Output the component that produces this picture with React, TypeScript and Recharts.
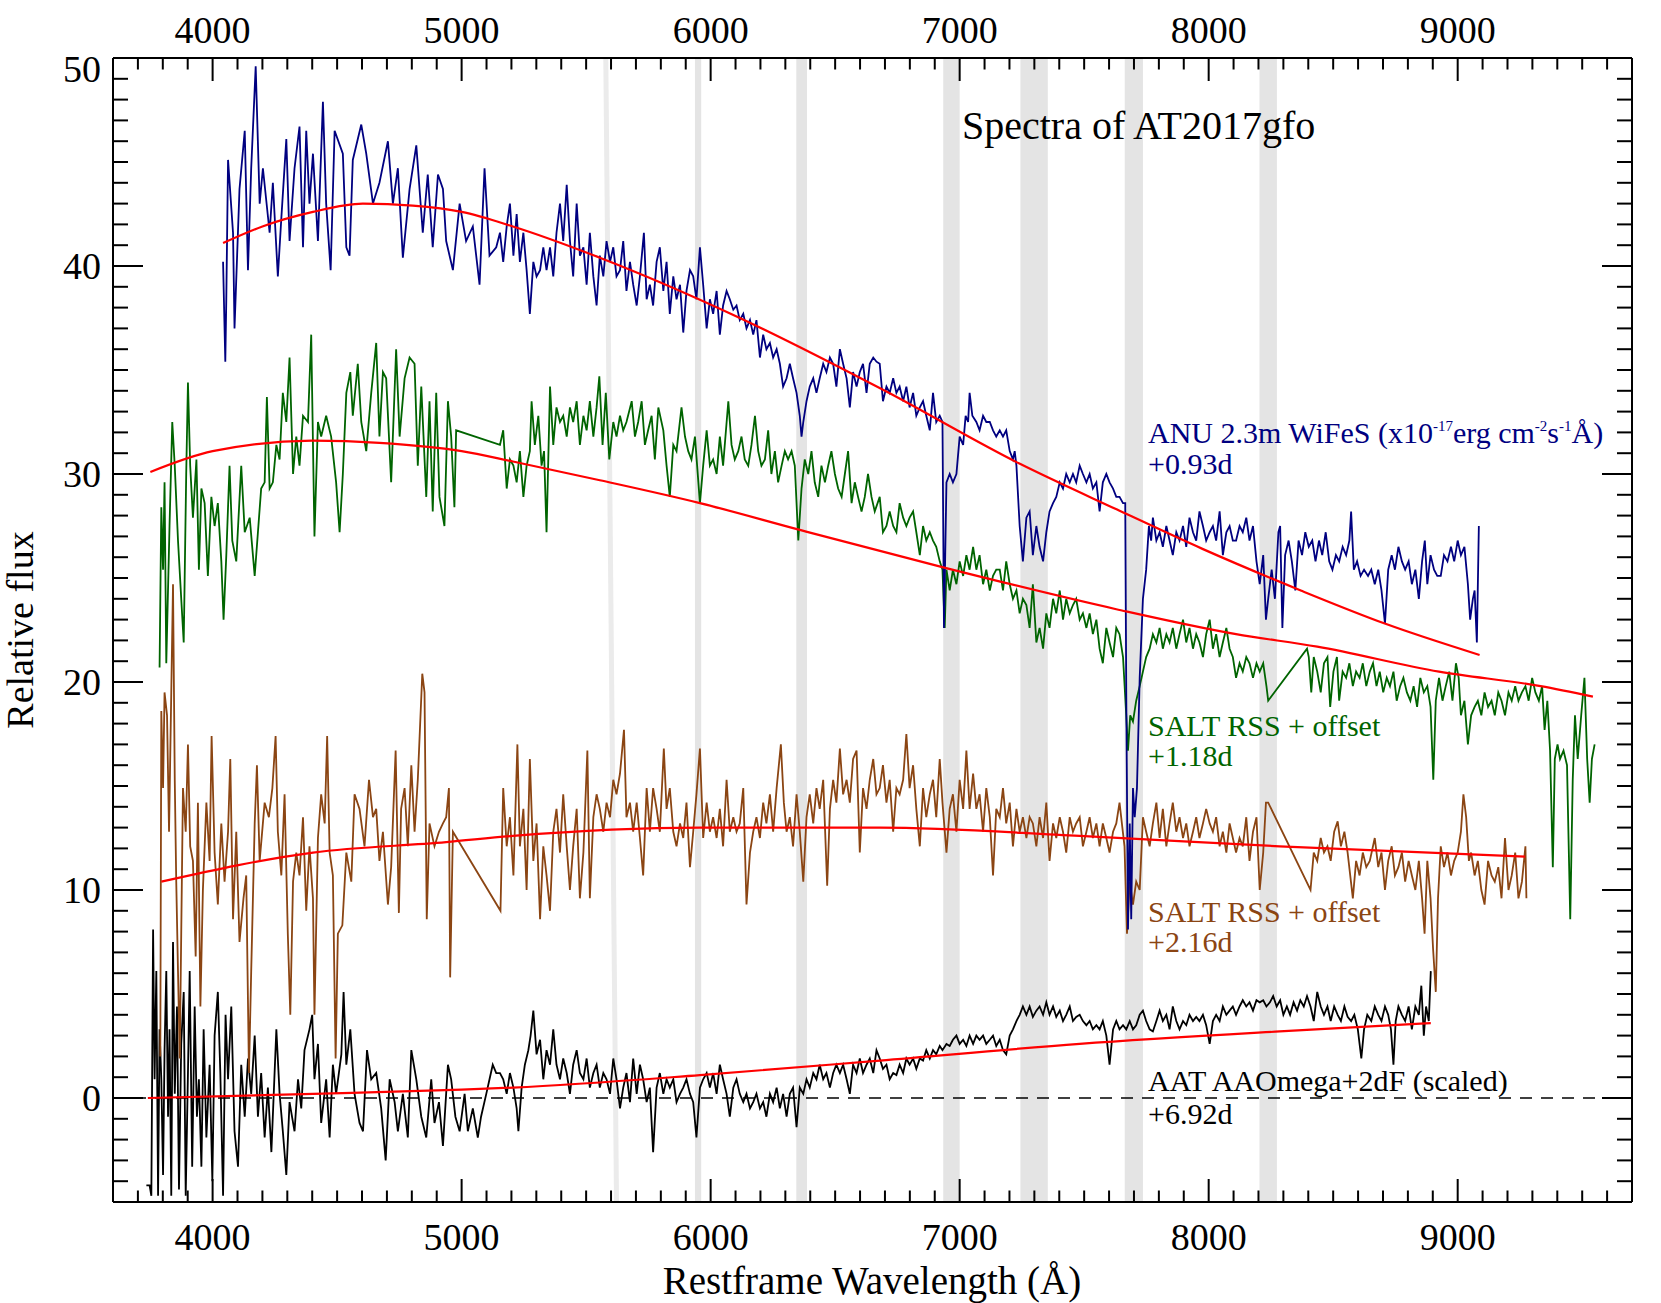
import React from 'react';
import { ComposedChart, Line, XAxis, YAxis, ReferenceArea, ReferenceLine } from 'recharts';

type P = [number, number];

// ---- ANU 2.3m WiFeS +0.93d (wavelength, flux)
const anuSpectrum: P[] = [
  [4042,40.2],[4051,35.4],[4055,38.4],[4062,45.1],[4082,41.6],[4088,37.0],[4108,43.7],[4129,46.5],[4142,39.8],[4155,44.7],[4173,49.6],[4189,43.0],[4202,44.7],[4229,41.6],[4242,44.0],[4262,39.5],[4276,42.3],[4296,46.1],[4309,41.2],[4329,44.7],[4349,46.7],[4363,40.9],[4376,46.5],[4389,43.0],[4403,45.4],[4423,41.2],[4443,47.9],[4456,43.0],[4474,39.8],[4490,46.5],[4523,45.4],[4537,40.9],[4550,40.5],[4563,45.1],[4597,46.8],[4617,45.4],[4644,43.0],[4670,44.0],[4704,46.0],[4724,43.0],[4744,44.7],[4764,40.4],[4791,43.7],[4818,45.8],[4844,41.6],[4864,44.4],[4884,40.9],[4905,44.4],[4925,43.7],[4938,41.2],[4965,39.8],[4992,43.0],[5018,41.2],[5045,41.9],[5072,39.1],[5092,44.7],[5112,40.5],[5139,40.9],
  [5154,41.6],[5167,40.2],[5181,41.9],[5194,43.0],[5208,40.5],[5221,42.5],[5234,40.2],[5248,41.6],[5261,39.8],[5274,37.7],[5288,40.2],[5301,39.5],[5315,39.8],[5328,40.9],[5341,39.8],[5355,40.9],[5368,39.5],[5381,41.6],[5395,43.0],[5408,41.2],[5422,43.9],[5435,41.2],[5448,39.5],[5462,43.0],[5475,40.5],[5489,40.9],[5502,39.1],[5515,41.6],[5529,39.5],[5542,38.1],[5555,40.5],[5569,39.5],[5582,41.2],[5596,40.2],[5609,40.9],[5622,39.5],[5636,39.8],[5649,41.2],[5662,38.8],[5676,40.2],[5689,39.1],[5703,38.1],[5716,39.5],[5732,41.6],[5743,38.4],[5756,39.1],[5769,38.1],[5783,40.2],[5796,40.9],[5810,38.8],[5823,40.2],[5836,37.7],[5850,39.5],[5863,38.4],[5877,39.1],[5890,36.8],[5903,38.8],[5917,39.8],[5930,39.5],[5943,38.4],[5957,40.9],[5970,39.1],[5984,37.0],[5997,38.4],[6010,37.7],[6024,38.8],[6037,36.7],[6050,38.1],[6064,38.8],[6077,38.4],[6091,37.9],[6104,38.1],[6117,37.4],[6131,37.7],[6144,37.0],[6158,37.4],[6171,36.7],[6184,37.4],[6198,35.6],[6211,36.7],[6224,36.0],[6238,36.3],[6251,35.6],[6265,36.0],[6278,35.3],[6291,34.2],[6305,34.6],[6318,35.3],[6331,34.6],[6345,33.9],[6358,32.8],[6365,31.8],[6372,32.5],[6385,33.5],[6398,34.2],[6412,34.6],[6425,33.9],[6438,34.6],[6452,35.3],[6465,34.9],[6479,35.6],[6492,35.3],[6505,34.2],[6519,36.0],[6532,35.3],[6546,34.6],[6559,33.2],[6572,34.9],[6586,34.2],[6599,34.9],[6612,35.3],[6626,33.9],[6639,35.3],[6653,35.6],[6666,35.4],
  [6679,35.3],[6692,33.5],[6706,34.2],[6719,33.9],[6733,34.6],[6746,33.9],[6759,34.2],[6773,33.5],[6786,34.2],[6799,33.2],[6813,33.9],[6826,32.8],[6840,33.2],[6853,33.5],[6866,32.8],[6880,32.1],[6893,33.9],[6906,32.5],[6920,32.8],[6931,32.5],[6937,22.6],[6947,29.6],[6960,30.0],[6973,29.6],[6987,30.0],[7000,31.8],[7014,31.4],[7024,32.8],[7034,32.5],[7040,33.9],[7051,32.8],[7067,32.5],[7080,32.1],[7094,32.8],[7107,32.5],[7121,32.5],[7134,32.1],[7147,31.8],[7161,32.1],[7174,31.8],[7187,32.1],[7201,31.1],[7214,30.7],[7221,31.1],[7228,30.4],[7241,27.5],[7254,25.8],[7268,27.9],[7281,28.2],[7294,26.1],[7308,27.5],[7321,26.5],[7335,25.8],[7348,27.2],[7361,28.2],[7375,28.6],[7388,28.9],[7402,29.6],[7415,29.3],[7428,30.0],[7442,29.6],[7455,30.0],[7468,29.6],[7482,30.4],[7495,30.0],[7509,29.6],[7522,30.0],[7535,29.3],[7549,29.6],[7562,28.2],[7575,29.6],[7589,30.0],[7602,29.6],[7616,29.3],[7629,28.9],[7642,28.9],[7656,28.6],[7665,28.6],[7669,19.5],[7676,8.1],[7683,13.2],[7689,8.6],[7696,14.9],[7703,13.5],[7712,14.9],[7723,20.2],[7736,24.0],[7749,25.4],[7760,27.5],[7769,26.8],[7776,27.9],[7790,26.8],[7803,27.2],[7816,26.5],[7830,27.5],[7843,26.8],[7856,26.1],[7870,27.2],[7883,26.8],[7897,27.5],[7910,26.5],[7923,27.9],[7937,27.2],[7950,26.8],[7963,28.2],[7977,27.5],[7990,26.8],[8004,27.2],[8017,27.5],[8030,26.8],[8044,28.2],[8057,26.1],[8071,27.2],[8084,27.5],[8097,26.8],
  [8110,26.8],[8124,27.5],[8137,27.2],[8151,27.9],[8164,26.8],[8178,27.5],[8192,25.8],[8205,24.7],[8219,26.1],[8230,23.0],[8239,24.0],[8253,25.4],[8266,24.0],[8280,27.2],[8287,27.5],[8296,22.6],[8307,26.1],[8321,26.8],[8334,25.8],[8348,24.4],[8361,26.8],[8375,26.1],[8388,27.2],[8402,26.5],[8416,26.8],[8429,25.8],[8443,26.8],[8456,26.1],[8470,27.2],[8484,25.8],[8497,25.4],[8511,26.1],[8524,25.8],[8538,26.5],[8552,26.1],[8565,26.8],[8572,28.2],[8583,25.4],[8596,25.8],[8610,25.1],[8624,25.4],[8640,25.1],[8653,25.4],[8667,24.7],[8681,25.4],[8694,24.4],[8708,22.8],[8721,25.4],[8735,26.1],[8748,25.4],[8762,26.5],[8776,25.8],[8789,25.4],[8803,25.8],[8816,24.7],[8830,25.4],[8844,24.0],[8857,25.8],[8868,26.8],[8878,24.7],[8891,26.1],[8905,25.4],[8918,25.1],[8932,25.1],[8945,26.1],[8959,25.8],[8973,26.5],[8986,25.8],[9000,26.8],[9013,26.1],[9027,26.5],[9041,24.7],[9050,23.0],[9061,24.0],[9068,24.4],[9077,21.9],[9085,27.5],
];
const anuFit: P[] = [
  [4042,41.1],[4200,41.9],[4403,42.6],[4603,43.0],[4804,42.9],[5000,42.6],[5206,41.9],[5555,40.4],[6100,37.6],[6700,34.0],[7240,30.5],[7630,28.3],[7975,26.4],[8370,24.4],[8710,22.8],[9088,21.3],
];

// ---- SALT RSS +1.18d (offset)
const saltEarlySpectrum: P[] = [
  [3787,20.7],[3794,28.4],[3801,25.4],[3807,29.6],[3814,20.9],[3827,27.5],[3838,32.5],[3848,30.4],[3861,26.8],[3874,24.0],[3884,21.9],[3894,30.0],[3901,34.4],[3910,30.4],[3921,27.9],[3935,30.7],[3945,25.4],[3955,29.3],[3968,28.6],[3981,25.1],[3995,28.9],[4008,27.5],[4021,28.6],[4035,25.8],[4044,23.0],[4055,26.1],[4068,30.4],[4079,26.8],[4095,25.8],[4115,30.4],[4129,27.2],[4149,27.9],[4169,25.1],[4182,27.2],[4195,29.3],[4209,29.6],[4218,33.7],[4229,29.3],[4242,29.6],[4256,31.4],[4269,30.7],[4282,33.9],[4296,32.5],[4309,35.6],[4323,30.0],[4336,31.8],[4349,30.4],[4363,32.8],[4383,32.5],[4396,36.7],[4409,27.0],[4423,32.5],[4436,31.8],[4456,32.8],[4476,31.8],[4496,29.6],[4510,27.2],[4523,30.0],[4537,33.9],[4553,34.9],[4563,32.8],[4583,35.3],[4597,32.5],[4617,31.1],[4637,33.9],[4657,36.3],[4670,31.8],[4684,34.9],[4697,34.6],[4717,29.6],[4737,36.0],[4751,31.8],[4771,34.6],[4791,35.6],[4811,35.3],[4824,30.4],[4838,34.2],[4858,28.9],[4871,33.5],[4884,28.2],[4898,33.9],[4911,28.9],[4931,27.5],[4945,33.5],[4958,31.8],[4971,28.4],[4978,32.1],
  [5154,31.4],[5167,32.1],[5181,29.3],[5194,30.7],[5208,30.4],[5221,29.6],[5234,31.1],[5248,28.9],[5261,30.4],[5274,31.1],[5281,33.5],[5294,31.4],[5308,32.8],[5321,30.4],[5331,31.1],[5341,27.2],[5355,34.2],[5368,31.4],[5381,33.2],[5395,32.5],[5408,32.8],[5422,31.8],[5435,33.2],[5448,32.5],[5462,33.5],[5475,31.4],[5489,32.8],[5502,32.1],[5515,33.5],[5529,31.8],[5542,33.2],[5553,34.7],[5566,31.4],[5579,33.9],[5593,30.7],[5609,32.5],[5622,31.8],[5636,32.8],[5649,32.1],[5662,32.5],[5683,33.5],[5696,31.8],[5709,32.5],[5723,33.5],[5736,31.4],[5749,32.1],[5763,32.8],[5776,30.7],[5790,33.2],[5810,32.1],[5823,30.4],[5836,28.9],[5850,31.4],[5863,31.1],[5883,33.2],[5897,31.8],[5910,31.1],[5923,30.7],[5937,31.8],[5957,28.6],[5970,30.4],[5984,32.1],[5997,30.4],[6010,30.7],[6024,30.0],[6037,31.8],[6050,30.4],[6071,33.5],[6084,31.4],[6097,30.7],[6111,31.1],[6124,31.8],[6137,30.7],[6151,30.4],[6164,31.4],[6178,32.8],[6191,31.1],[6204,30.4],[6218,30.7],[6231,32.1],[6244,30.0],[6258,31.1],[6271,29.6],[6285,30.4],[6298,31.1],[6311,30.7],[6325,31.1],[6338,30.4],[6352,26.8],[6365,29.3],[6378,30.7],[6392,30.0],[6405,31.1],[6418,29.6],[6432,28.9],[6445,30.4],[6459,29.6],[6472,30.4],[6485,31.1],[6499,30.0],[6512,29.3],[6526,28.9],[6539,30.0],[6552,31.1],[6566,28.6],[6579,29.6],[6592,28.9],[6606,28.2],[6619,28.9],[6632,30.0],[6646,28.9],[6659,28.2],
  [6679,28.9],[6692,27.2],[6706,27.5],[6719,28.2],[6733,27.5],[6746,27.2],[6759,28.6],[6773,27.9],[6786,27.5],[6799,27.9],[6813,28.2],[6826,27.2],[6840,26.1],[6853,27.5],[6866,26.8],[6880,27.2],[6893,26.8],[6906,26.5],[6920,25.8],[6931,25.4],[6940,22.6],[6947,25.4],[6960,24.4],[6973,25.4],[6987,24.7],[7000,25.8],[7014,25.1],[7027,26.1],[7040,25.4],[7054,26.5],[7067,25.4],[7080,26.1],[7094,24.7],[7107,25.4],[7121,24.4],[7134,25.1],[7147,25.4],[7161,25.4],[7174,24.4],[7187,25.8],[7201,24.7],[7214,24.0],[7228,24.4],[7241,23.3],[7254,24.0],[7268,23.7],[7281,22.6],[7294,24.7],[7308,21.9],[7321,22.6],[7335,21.6],[7348,23.3],[7361,22.6],[7375,24.0],[7388,23.3],[7402,24.4],[7415,23.0],[7428,24.0],[7442,23.3],[7455,23.7],[7468,24.0],[7482,23.0],[7495,23.3],[7509,22.6],[7522,23.3],[7535,22.3],[7549,23.0],[7562,21.6],[7575,20.9],[7589,22.6],[7602,21.9],[7616,21.2],[7629,22.6],[7642,22.3],[7656,21.2],[7669,18.4],[7676,16.7],[7685,18.4],[7696,18.1],[7709,19.1],[7723,19.8],[7736,20.5],[7749,21.2],[7763,21.6],[7776,22.3],[7790,21.9],[7803,22.6],[7816,21.6],[7830,22.3],[7843,21.9],[7856,22.6],[7870,21.6],[7883,22.3],[7897,23.0],[7910,21.9],[7923,22.6],[7937,21.6],[7950,22.3],[7963,21.9],[7977,21.2],[7990,22.3],[8004,23.0],[8017,21.6],[8030,22.3],[8044,21.2],[8057,21.9],[8071,22.6],[8084,21.6],[8097,21.2],
  [8110,20.2],[8124,20.9],[8137,20.5],[8151,21.2],[8164,20.9],[8178,20.2],[8192,20.9],[8205,20.5],[8219,20.9],[8232,19.8],[8239,19.1],[8395,21.6],[8402,21.2],[8412,19.5],[8422,21.2],[8436,20.5],[8450,19.5],[8463,20.9],[8477,21.2],[8488,18.8],[8501,20.5],[8515,21.2],[8524,19.1],[8538,20.5],[8552,20.2],[8565,20.9],[8579,19.8],[8592,20.5],[8606,20.2],[8619,20.9],[8633,19.8],[8647,20.5],[8660,20.9],[8674,19.8],[8687,20.5],[8701,19.5],[8715,20.2],[8728,19.8],[8742,20.5],[8755,19.1],[8769,19.8],[8782,20.2],[8796,19.5],[8810,19.1],[8823,19.8],[8837,18.8],[8850,20.2],[8864,19.5],[8878,19.8],[8891,18.8],[8902,15.3],[8912,19.1],[8925,20.2],[8939,19.1],[8952,19.8],[8966,20.5],[8979,19.1],[8993,20.9],[9004,20.2],[9013,18.4],[9027,19.1],[9041,17.0],[9054,18.4],[9068,18.8],[9081,19.1],[9095,18.4],[9108,19.5],[9122,18.8],[9136,19.1],[9149,18.4],[9163,19.5],[9176,19.1],[9190,18.4],[9204,19.5],[9217,19.1],[9231,19.8],[9244,19.1],[9258,19.5],[9272,19.8],[9285,19.1],[9299,20.2],[9312,19.5],[9326,19.1],[9339,19.8],[9349,17.7],[9360,19.1],[9371,16.7],[9382,11.1],[9390,16.3],[9401,17.0],[9411,16.3],[9425,16.7],[9439,16.0],[9452,8.6],[9462,15.3],[9471,18.4],[9482,16.3],[9496,18.4],[9509,20.2],[9520,16.3],[9530,14.2],[9539,16.3],[9550,17.0],
];
const saltEarlyFit: P[] = [
  [3750,30.1],[4000,31.1],[4400,31.6],[4670,31.5],[5000,31.1],[5206,30.6],[5555,29.7],[5957,28.6],[6362,27.3],[6938,25.5],[7629,23.5],[8110,22.3],[8436,21.7],[8925,20.5],[9333,19.8],[9543,19.3],
];

// ---- SALT RSS +2.16d (offset)
const saltLateSpectrum: P[] = [
  [3790,2.0],[3794,18.6],[3801,14.9],[3807,19.5],[3817,18.4],[3825,12.8],[3834,19.5],[3841,24.7],[3848,15.3],[3854,10.4],[3861,6.1],[3868,1.9],[3874,7.9],[3881,14.9],[3892,12.8],[3901,17.0],[3910,12.1],[3921,11.4],[3932,6.8],[3941,14.2],[3951,4.4],[3961,10.0],[3975,14.2],[3988,11.4],[3996,17.4],[4008,11.8],[4021,9.3],[4035,13.2],[4048,10.4],[4062,12.8],[4071,16.3],[4082,8.6],[4095,12.8],[4108,7.5],[4124,9.6],[4135,10.7],[4146,1.2],[4155,6.1],[4169,13.2],[4178,16.0],[4189,11.4],[4209,14.2],[4226,13.5],[4240,14.9],[4253,17.4],[4262,12.8],[4276,10.7],[4289,14.6],[4302,7.9],[4312,4.0],[4323,10.4],[4336,11.8],[4349,10.7],[4363,13.5],[4376,9.0],[4389,12.1],[4403,9.6],[4409,4.0],[4423,12.5],[4436,14.6],[4450,13.2],[4460,17.4],[4470,11.8],[4483,10.7],[4494,1.9],[4503,7.9],[4521,8.3],[4537,11.8],[4557,10.4],[4570,14.6],[4590,13.9],[4610,12.1],[4628,15.3],[4644,13.5],[4657,13.9],[4670,11.4],[4684,12.8],[4704,9.3],[4717,11.1],[4735,16.7],[4748,8.9],[4757,13.9],[4771,14.9],[4784,12.1],[4798,16.0],[4811,12.8],[4824,15.3],[4842,20.4],[4851,19.5],[4860,8.6],[4871,13.2],[4891,12.1],[4909,12.8],[4925,13.2],[4938,13.5],[4949,14.9],[4954,5.8],[4965,12.8],[5156,9.0],
  [5167,14.9],[5181,12.1],[5194,13.5],[5208,10.7],[5224,17.0],[5234,12.1],[5248,13.9],[5261,10.0],[5274,16.3],[5288,11.4],[5301,13.2],[5315,8.6],[5328,12.1],[5341,10.7],[5355,9.0],[5368,12.8],[5381,13.9],[5395,11.8],[5408,14.6],[5422,12.1],[5435,10.0],[5448,12.1],[5462,13.9],[5475,9.6],[5489,11.8],[5505,16.7],[5515,9.6],[5529,13.5],[5542,14.6],[5555,13.9],[5569,12.8],[5582,14.2],[5596,13.5],[5609,15.3],[5622,14.6],[5636,15.6],[5652,17.7],[5662,13.5],[5676,14.2],[5689,12.8],[5703,14.2],[5716,12.5],[5729,10.7],[5743,14.9],[5756,12.8],[5769,14.9],[5783,13.9],[5796,12.8],[5812,16.8],[5823,13.9],[5836,14.9],[5850,12.8],[5863,12.1],[5877,13.2],[5890,12.5],[5903,14.2],[5917,11.1],[5930,12.8],[5943,14.6],[5957,16.8],[5970,12.5],[5984,14.2],[5997,12.8],[6010,13.5],[6024,12.5],[6037,13.9],[6050,12.1],[6064,15.3],[6077,12.8],[6091,13.5],[6104,12.8],[6117,13.2],[6131,14.9],[6144,9.3],[6158,11.8],[6171,12.8],[6184,13.5],[6198,12.5],[6211,14.2],[6224,13.2],[6238,14.6],[6251,12.8],[6265,14.9],[6282,17.0],[6294,14.2],[6305,12.8],[6318,13.5],[6331,12.1],[6345,14.6],[6358,12.8],[6372,10.4],[6385,13.5],[6398,14.6],[6412,13.2],[6425,14.9],[6438,13.9],[6452,15.3],[6468,10.2],[6479,13.9],[6492,15.3],[6505,14.2],[6519,16.8],[6532,14.6],[6546,15.3],[6559,14.2],[6572,16.3],[6586,16.7],[6599,11.8],[6612,14.9],[6626,13.9],[6639,15.3],[6653,16.3],[6666,14.6],
  [6679,14.9],[6692,16.0],[6706,14.2],[6719,15.3],[6733,12.8],[6746,14.9],[6759,14.6],[6773,15.3],[6786,17.5],[6799,14.9],[6813,16.0],[6826,13.9],[6840,12.1],[6853,14.9],[6866,13.5],[6880,14.6],[6893,15.3],[6906,13.5],[6920,16.3],[6931,14.2],[6947,11.8],[6960,13.9],[6973,14.6],[6987,12.8],[7000,15.3],[7014,13.9],[7027,16.7],[7040,13.9],[7054,15.6],[7067,13.9],[7080,14.6],[7094,12.8],[7107,14.9],[7121,13.5],[7134,10.7],[7147,13.9],[7161,13.5],[7174,14.9],[7187,13.2],[7201,14.2],[7214,12.1],[7228,13.9],[7241,12.8],[7254,13.5],[7268,12.5],[7281,13.5],[7294,13.2],[7308,12.1],[7321,13.5],[7335,12.5],[7348,14.2],[7361,11.4],[7375,13.2],[7388,12.5],[7402,13.5],[7415,12.8],[7428,11.8],[7442,13.5],[7455,12.8],[7468,13.2],[7482,13.5],[7495,12.1],[7509,12.8],[7522,13.5],[7535,12.5],[7549,13.2],[7562,12.1],[7575,13.2],[7589,12.5],[7602,11.8],[7616,12.8],[7629,13.2],[7642,14.2],[7662,12.1],[7672,7.9],[7683,10.4],[7696,9.3],[7709,10.4],[7723,10.0],[7736,13.5],[7749,12.8],[7763,12.1],[7776,13.2],[7790,14.2],[7803,12.5],[7816,13.9],[7830,12.1],[7843,13.2],[7856,14.2],[7870,12.8],[7883,13.5],[7897,12.5],[7910,13.2],[7923,12.1],[7937,12.8],[7950,13.5],[7963,12.5],[7977,13.2],[7990,13.9],[8004,13.2],[8017,12.8],[8030,13.5],[8044,12.1],[8057,12.8],[8071,11.8],[8084,13.2],[8097,12.5],
  [8110,11.8],[8124,12.5],[8137,12.1],[8151,13.5],[8164,11.4],[8178,12.8],[8192,13.5],[8205,10.0],[8219,11.8],[8230,14.2],[8239,14.2],[8409,10.0],[8422,11.8],[8436,11.4],[8450,12.5],[8463,11.8],[8477,12.1],[8490,11.4],[8504,12.8],[8518,13.3],[8531,12.1],[8545,12.8],[8558,11.8],[8579,9.6],[8592,11.4],[8606,10.7],[8619,11.8],[8633,11.1],[8647,11.4],[8667,12.5],[8681,11.1],[8694,11.8],[8708,10.0],[8721,11.4],[8735,12.1],[8748,10.7],[8762,11.1],[8776,11.8],[8789,10.4],[8803,11.4],[8816,10.7],[8830,10.0],[8844,11.4],[8857,9.6],[8867,7.9],[8878,11.4],[8891,9.6],[8901,7.2],[8912,5.1],[8921,9.6],[8932,12.1],[8945,11.1],[8959,11.8],[8973,10.7],[8986,11.4],[9000,11.8],[9013,12.8],[9023,14.6],[9034,13.5],[9045,11.4],[9054,11.8],[9068,10.7],[9081,11.4],[9095,10.0],[9108,9.3],[9122,11.4],[9136,10.7],[9149,10.4],[9163,11.1],[9176,9.6],[9190,12.5],[9204,10.0],[9217,10.7],[9231,11.8],[9244,9.6],[9258,10.4],[9272,12.1],[9276,9.6],
];
const saltLateFit: P[] = [
  [3794,10.4],[4403,11.8],[4938,12.3],[5206,12.6],[5957,13.0],[6679,13.0],[7482,12.6],[8285,12.1],[9271,11.6],
];

// ---- AAT AAOmega+2dF (scaled) +6.92d
const aatSpectrum: P[] = [
  [3734,-4.2],[3747,-4.2],[3754,-4.7],[3761,8.1],[3767,0.9],[3774,6.1],[3781,-4.7],[3787,3.3],[3794,0.9],[3801,-3.7],[3807,2.3],[3814,6.1],[3821,-0.9],[3827,3.3],[3834,-4.7],[3841,7.5],[3848,0.2],[3857,4.4],[3865,-4.4],[3874,2.6],[3884,5.1],[3892,-4.7],[3901,1.2],[3908,6.1],[3918,-3.3],[3928,4.4],[3937,-0.9],[3945,0.9],[3955,-3.3],[3964,3.3],[3975,-1.9],[3988,1.6],[3999,-4.0],[4008,3.0],[4021,5.1],[4031,1.2],[4042,-4.7],[4052,4.0],[4062,0.9],[4075,4.4],[4088,-1.6],[4102,-3.3],[4115,1.6],[4129,-0.9],[4142,1.9],[4155,0.2],[4169,3.0],[4182,-0.9],[4195,1.2],[4209,-1.9],[4222,0.5],[4236,-2.6],[4256,3.3],[4269,0.2],[4282,-1.6],[4296,-3.7],[4309,-0.2],[4329,-1.6],[4343,0.9],[4356,-0.5],[4369,2.3],[4389,3.3],[4400,4.0],[4409,0.9],[4423,2.6],[4436,-1.2],[4456,0.9],[4470,-1.9],[4483,1.6],[4496,0.2],[4517,2.1],[4526,5.1],[4537,1.6],[4553,3.3],[4570,0.2],[4590,-1.2],[4604,-1.6],[4620,2.3],[4637,0.9],[4657,1.2],[4677,-0.5],[4695,-3.0],[4711,0.9],[4731,-0.2],[4744,-1.6],[4764,0.2],[4784,-1.9],[4798,2.3],[4818,0.9],[4838,-0.9],[4858,-1.9],[4878,0.9],[4891,-1.2],[4909,-0.2],[4925,-2.3],[4945,1.6],[4958,0.9],[4975,-0.9],[4992,-1.6],[5012,0.2],[5025,-1.6],[5045,-0.5],[5065,-1.9],[5078,-0.9],[5099,0.2],[5112,0.9],[5125,1.6],[5139,1.2],
  [5154,1.2],[5167,0.9],[5181,0.2],[5194,1.2],[5208,0.5],[5221,-0.5],[5228,-1.6],[5241,0.5],[5254,1.6],[5268,2.3],[5277,3.0],[5288,4.2],[5301,2.1],[5315,2.8],[5328,0.9],[5341,2.3],[5355,1.6],[5368,3.3],[5381,1.6],[5395,0.9],[5408,1.9],[5422,1.2],[5435,0.2],[5448,1.6],[5462,2.3],[5475,1.2],[5489,0.9],[5502,1.9],[5515,0.5],[5529,1.2],[5542,1.6],[5555,0.5],[5569,1.2],[5582,0.9],[5596,0.2],[5609,1.9],[5622,0.9],[5636,-0.5],[5649,0.5],[5662,1.2],[5676,-0.2],[5689,1.9],[5703,0.2],[5716,1.6],[5729,0.9],[5743,-0.2],[5756,0.5],[5769,-2.6],[5783,0.5],[5796,1.2],[5810,0.2],[5823,0.9],[5836,0.5],[5850,0.9],[5863,-0.2],[5877,0.2],[5890,0.5],[5903,0.9],[5917,0.2],[5930,-0.2],[5943,-1.9],[5957,0.5],[5970,0.9],[5984,1.2],[5997,0.5],[6010,1.2],[6024,0.2],[6037,1.6],[6050,0.9],[6064,0.2],[6077,-0.9],[6091,0.5],[6104,0.9],[6117,0.2],[6131,-0.2],[6144,0.2],[6158,-0.5],[6171,-0.2],[6184,0.2],[6198,-0.5],[6211,-0.2],[6224,-0.9],[6238,0.2],[6251,-0.2],[6265,0.5],[6278,-0.5],[6291,0.2],[6305,-0.9],[6318,0.2],[6331,0.5],[6345,-1.4],[6358,0.5],[6372,0.2],[6385,0.9],[6398,0.5],[6412,1.2],[6425,0.9],[6438,1.6],[6452,0.9],[6465,1.2],[6479,0.5],[6492,1.2],[6505,1.6],[6519,1.2],[6532,1.6],[6546,0.9],[6559,0.2],[6572,1.6],[6586,1.2],[6599,1.9],[6612,1.2],[6626,1.6],[6639,1.9],[6653,1.2],[6666,2.3],
  [6679,1.9],[6692,1.4],[6706,1.6],[6719,0.9],[6733,1.2],[6746,1.1],[6759,1.6],[6773,1.2],[6786,1.9],[6799,1.6],[6813,1.9],[6826,1.4],[6840,1.9],[6853,1.8],[6866,2.3],[6880,1.9],[6893,2.3],[6906,2.1],[6920,2.5],[6931,2.3],[6947,2.6],[6960,2.5],[6973,2.8],[6987,3.0],[7000,2.6],[7014,2.8],[7027,2.5],[7040,3.0],[7054,2.6],[7067,3.0],[7080,2.8],[7094,3.0],[7107,2.6],[7121,2.8],[7134,3.0],[7147,2.5],[7161,2.8],[7174,2.3],[7187,2.1],[7201,3.0],[7214,3.3],[7228,3.7],[7241,4.0],[7254,4.4],[7268,4.0],[7281,4.4],[7294,3.9],[7308,4.2],[7321,4.4],[7335,4.0],[7348,4.6],[7361,4.0],[7375,4.4],[7388,3.9],[7402,4.2],[7415,3.7],[7428,4.0],[7442,4.4],[7455,3.7],[7468,3.9],[7482,4.0],[7495,3.7],[7509,3.5],[7522,3.7],[7535,3.3],[7549,3.5],[7562,3.3],[7575,3.7],[7589,3.0],[7602,1.6],[7616,3.3],[7629,3.7],[7642,3.3],[7656,3.5],[7669,3.3],[7683,3.7],[7696,3.3],[7709,3.5],[7723,4.0],[7736,4.2],[7749,3.7],[7763,3.3],[7776,3.2],[7790,3.7],[7803,4.2],[7816,3.7],[7830,4.0],[7843,3.3],[7856,4.4],[7870,3.7],[7883,3.3],[7897,3.7],[7910,3.5],[7923,4.0],[7937,3.7],[7950,3.9],[7963,3.7],[7977,4.0],[7990,3.5],[8004,2.6],[8017,3.7],[8030,4.0],[8044,3.7],[8057,4.4],[8071,4.0],[8084,4.2],[8097,4.4],
  [8110,4.0],[8124,4.4],[8137,4.7],[8151,4.4],[8164,4.6],[8178,4.2],[8192,4.7],[8205,4.6],[8219,4.7],[8232,4.4],[8246,4.6],[8259,4.9],[8273,4.4],[8287,4.7],[8300,4.0],[8314,4.4],[8327,4.0],[8341,4.6],[8355,4.2],[8368,4.7],[8382,4.4],[8395,4.9],[8409,4.4],[8422,3.7],[8436,5.1],[8450,4.4],[8463,4.0],[8477,4.4],[8490,3.7],[8504,4.4],[8518,4.0],[8531,3.7],[8545,4.4],[8558,3.9],[8572,3.7],[8585,4.0],[8599,3.3],[8613,1.9],[8624,3.3],[8637,4.0],[8653,3.7],[8667,4.4],[8681,4.0],[8694,3.7],[8708,4.4],[8721,4.0],[8732,3.3],[8742,1.6],[8751,3.7],[8762,4.4],[8776,4.0],[8789,3.7],[8803,4.4],[8816,3.3],[8830,4.4],[8844,4.0],[8854,5.4],[8864,3.0],[8873,4.4],[8884,3.7],[8892,6.1],
];
const aatFit: P[] = [
  [3740,0.0],[4403,0.2],[5000,0.4],[5206,0.5],[5957,1.1],[6679,1.8],[7482,2.6],[8285,3.2],[8892,3.6],
];

// telluric bands (Å)
const telluricBands: P[] = [[5937,5962],[6344,6387],[6934,7000],[7244,7354],[7663,7736],[8204,8274]];
const slantedBand = [{ x: 5579, y: 50 }, { x: 5622, y: -5 }];

const xMajor = [4000, 5000, 6000, 7000, 8000, 9000];
const yMajor = [0, 10, 20, 30, 40, 50];
const X_DOMAIN: [number, number] = [3600, 9700];
const Y_DOMAIN: [number, number] = [-5, 50];
const xTicks = Array.from({ length: 62 }, (_, i) => 3600 + i * 100);
const yTicks = Array.from({ length: 56 }, (_, i) => -5 + i);

const COLORS = { anu: '#000080', early: '#006400', late: '#8B4513', aat: '#000000', fit: '#FF0000' };
const FONT = '"Liberation Serif", "Times New Roman", Times, serif';

const rows = (pts: P[]) => pts.map(([w, f]) => ({ w, f }));

const W = 1661;
const H = 1303;
// plot box: left 113, right 1632, top 58, bottom 1202 (each axis takes 1px)
const MARGIN = { top: 57, right: 28, bottom: 100, left: 112 };

function BottomTick(props: any) {
  const { x, y, payload } = props;
  const v = payload.value;
  const major = xMajor.includes(v);
  return (
    <g>
      <line x1={x} y1={y} x2={x} y2={y - (major ? 23 : 11.5)} stroke="#000" strokeWidth={2} />
      {major && (
        <text x={x} y={y + 48} textAnchor="middle" fontFamily={FONT} fontSize={38} fill="#000">{v}</text>
      )}
    </g>
  );
}
function TopTick(props: any) {
  const { x, y, payload } = props;
  const v = payload.value;
  const major = xMajor.includes(v);
  return (
    <g>
      <line x1={x} y1={y} x2={x} y2={y + (major ? 23 : 11.5)} stroke="#000" strokeWidth={2} />
      {major && (
        <text x={x} y={y - 15} textAnchor="middle" fontFamily={FONT} fontSize={38} fill="#000">{v}</text>
      )}
    </g>
  );
}
function LeftTick(props: any) {
  const { x, y, payload } = props;
  const v = payload.value;
  const major = yMajor.includes(v);
  return (
    <g>
      <line x1={x} y1={y} x2={x + (major ? 30 : 15)} y2={y} stroke="#000" strokeWidth={2} />
      {major && (
        <text x={x - 12} y={y + 13 + (v === 50 ? 11 : 0)} textAnchor="end" fontFamily={FONT} fontSize={38} fill="#000">{v}</text>
      )}
    </g>
  );
}
function RightTick(props: any) {
  const { x, y, payload } = props;
  const major = yMajor.includes(payload.value);
  return <line x1={x} y1={y} x2={x - (major ? 30 : 15)} y2={y} stroke="#000" strokeWidth={2} />;
}

const SUP = 15;
const SPEC_W = 1.8;

export default function App() {
  return (
    <div style={{ position: 'relative', width: W, height: H, background: '#fff' }}>
      <style>{'body{margin:0;background:#fff}'}</style>
      <ComposedChart width={W} height={H} margin={MARGIN}>
        <XAxis xAxisId="b" orientation="bottom" type="number" dataKey="w" domain={X_DOMAIN} ticks={xTicks}
          interval={0} allowDataOverflow height={1} tickSize={0} tickMargin={0}
          tick={(p: any) => <BottomTick {...p} />}
          axisLine={{ stroke: '#000', strokeWidth: 2 }} />
        <XAxis xAxisId="t" orientation="top" type="number" dataKey="w" domain={X_DOMAIN} ticks={xTicks}
          interval={0} allowDataOverflow height={1} tickSize={0} tickMargin={0}
          tick={(p: any) => <TopTick {...p} />}
          axisLine={{ stroke: '#000', strokeWidth: 2 }} />
        <YAxis yAxisId="l" orientation="left" type="number" domain={Y_DOMAIN} ticks={yTicks}
          interval={0} allowDataOverflow width={1} tickSize={0} tickMargin={0}
          tick={(p: any) => <LeftTick {...p} />}
          axisLine={{ stroke: '#000', strokeWidth: 2 }} />
        <YAxis yAxisId="r" orientation="right" type="number" domain={Y_DOMAIN} ticks={yTicks}
          interval={0} allowDataOverflow width={1} tickSize={0} tickMargin={0}
          tick={(p: any) => <RightTick {...p} />}
          axisLine={{ stroke: '#000', strokeWidth: 2 }} />

        {telluricBands.map(([a, b]) => (
          <ReferenceArea key={a} xAxisId="b" yAxisId="l" x1={a} x2={b} y1={-5} y2={50}
            fill="#e4e4e4" fillOpacity={1} stroke="none" ifOverflow="hidden" />
        ))}
        <ReferenceLine xAxisId="b" yAxisId="l" segment={slantedBand} stroke="#ebebeb" strokeWidth={5} ifOverflow="hidden" />
        <ReferenceLine xAxisId="b" yAxisId="l" y={0} stroke="#000" strokeWidth={1.5} strokeDasharray="12 9" />

        <Line xAxisId="b" yAxisId="l" data={rows(aatSpectrum)} dataKey="f" stroke={COLORS.aat} strokeWidth={SPEC_W}
          dot={false} activeDot={false} isAnimationActive={false} type="linear" />
        <Line xAxisId="b" yAxisId="l" data={rows(saltLateSpectrum)} dataKey="f" stroke={COLORS.late} strokeWidth={SPEC_W}
          dot={false} activeDot={false} isAnimationActive={false} type="linear" />
        <Line xAxisId="b" yAxisId="l" data={rows(saltEarlySpectrum)} dataKey="f" stroke={COLORS.early} strokeWidth={SPEC_W}
          dot={false} activeDot={false} isAnimationActive={false} type="linear" />
        <Line xAxisId="b" yAxisId="l" data={rows(anuSpectrum)} dataKey="f" stroke={COLORS.anu} strokeWidth={SPEC_W}
          dot={false} activeDot={false} isAnimationActive={false} type="linear" />

        {[aatFit, saltLateFit, saltEarlyFit, anuFit].map((fit, i) => (
          <Line key={i} xAxisId="b" yAxisId="l" data={rows(fit)} dataKey="f" stroke={COLORS.fit} strokeWidth={2.2}
            dot={false} activeDot={false} isAnimationActive={false} type="monotone" />
        ))}
      </ComposedChart>

      <svg width={W} height={H} style={{ position: 'absolute', left: 0, top: 0, pointerEvents: 'none' }}
        fontFamily={FONT}>
        <text x={962} y={139} fontSize={40} fill="#000">Spectra of AT2017gfo</text>

        <text x={1148} y={443} fontSize={30} fill={COLORS.anu}>
          ANU 2.3m WiFeS (x10<tspan dy={-12} fontSize={SUP}>-17</tspan><tspan dy={12}>erg cm</tspan>
          <tspan dy={-12} fontSize={SUP}>-2</tspan><tspan dy={12}>s</tspan><tspan dy={-12} fontSize={SUP}>-1</tspan>
          <tspan dy={12}>Å)</tspan>
        </text>
        <text x={1148} y={474} fontSize={30} fill={COLORS.anu}>+0.93d</text>

        <text x={1148} y={736} fontSize={30} fill={COLORS.early}>SALT RSS + offset</text>
        <text x={1148} y={766} fontSize={30} fill={COLORS.early}>+1.18d</text>

        <text x={1148} y={922} fontSize={30} fill={COLORS.late}>SALT RSS + offset</text>
        <text x={1148} y={952} fontSize={30} fill={COLORS.late}>+2.16d</text>

        <text x={1148} y={1091} fontSize={30} fill="#000">AAT AAOmega+2dF (scaled)</text>
        <text x={1148} y={1124} fontSize={30} fill="#000">+6.92d</text>

        <text x={872} y={1294} fontSize={39} textAnchor="middle" fill="#000">Restframe Wavelength (Å)</text>
        <text x={33} y={630} fontSize={38} textAnchor="middle" fill="#000" transform="rotate(-90 33 630)">Relative flux</text>
      </svg>
    </div>
  );
}
